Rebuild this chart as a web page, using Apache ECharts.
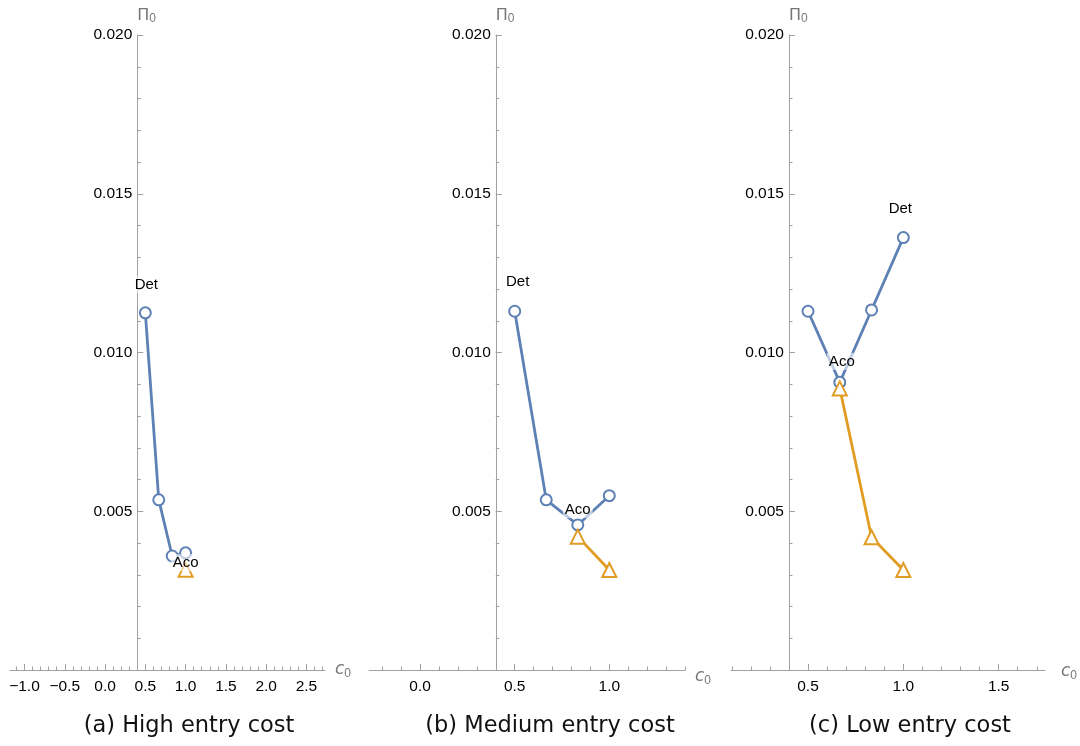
<!DOCTYPE html>
<html>
<head>
<meta charset="utf-8">
<script src="https://cdn.jsdelivr.net/npm/echarts@6/dist/echarts.min.js"></script>
<style>html,body{margin:0;padding:0;background:#fff}#c{width:1080px;height:746px}</style>
</head>
<body>
<div id="c"></div>
<script>
// ---- data ----
const c0Values = [0.5, 0.6667, 0.8333, 1.0];
const detHigh = [0.01125, 0.00536, 0.00359, 0.00369];
const acoHigh = [null, null, null, 0.00316];
const detMedium = [0.01130, 0.00536, 0.00457, 0.00549];
const acoMedium = [null, null, 0.00420, 0.00315];
const detLow = [0.01130, 0.00906, 0.01134, 0.01362];
const acoLow = [null, 0.00887, 0.00418, 0.00315];
const xTicksHigh = [-1.0, -0.5, 0.0, 0.5, 1.0, 1.5, 2.0, 2.5];
const xTicksMedium = [0.0, 0.5, 1.0];
const xTicksLow = [0.5, 1.0, 1.5];
const yTicks = [0.005, 0.010, 0.015, 0.020];
const titles = ['(a) High entry cost', '(b) Medium entry cost', '(c) Low entry cost'];
const detLabel = 'Det', acoLabel = 'Aco';

// ---- layout / style ----
const BLUE = '#5E81B5', ORANGE = '#E19C24', AXIS = '#a0a0a0';
const SANS = 'Liberation Sans, Arial, sans-serif';
const panels = [
  {det: detHigh, aco: acoHigh, ticks: xTicksHigh, xmin: -1.18, xmax: 2.73, left: 10, width: 315, cx: 184,
   detOff: [1, -28], acoOff: [0, -7], nameOff: [0, 0]},
  {det: detMedium, aco: acoMedium, ticks: xTicksMedium, xmin: -0.27, xmax: 1.40, left: 369, width: 316, cx: 545,
   detOff: [3, -29], acoOff: [0, -27], nameOff: [0, 14]},
  {det: detLow, aco: acoLow, ticks: xTicksLow, xmin: 0.096, xmax: 1.743, left: 731, width: 314, cx: 905,
   detOff: [-3, -29], acoOff: [2, -27], nameOff: [6, 4]}
];
const Y0 = 0.4; // x position where the vertical axis crosses
const TOP = 35, HEIGHT = 635;

function minorVals(min, max, step) {
  const out = [];
  const start = Math.ceil(min / step - 1e-9);
  for (let k = start; k * step <= max + 1e-9; k++) out.push(+(k * step).toFixed(4));
  return out;
}
function argmax(arr) {
  let bi = -1, bv = -Infinity;
  arr.forEach((v, i) => { if (v != null && v > bv) { bv = v; bi = i; } });
  return bi;
}
const labelStyle = (off) => ({
  show: true, position: 'inside', offset: off, color: '#000',
  fontFamily: SANS, fontSize: 15,
  backgroundColor: 'rgba(255,255,255,0.6)', padding: [1, 2],
  formatter: (p) => p.data.labelText
});

const grid = [], xAxis = [], yAxis = [], series = [], title = [];
panels.forEach((p, gi) => {
  grid.push({left: p.left, width: p.width, top: TOP, height: HEIGHT, containLabel: false});
  const yOffset = -(Y0 - p.xmin) / (p.xmax - p.xmin) * p.width;
  // main x axis
  xAxis.push({
    type: 'value', gridIndex: gi, min: p.xmin, max: p.xmax, position: 'bottom',
    axisLine: {show: true, onZero: false, lineStyle: {color: AXIS, width: 1}},
    axisTick: {show: true, inside: true, length: 6, customValues: p.ticks, lineStyle: {color: AXIS}},
    axisLabel: {show: true, customValues: p.ticks, formatter: v => v.toFixed(1).replace('-', '\u2212'),
      color: '#000', fontFamily: SANS, fontSize: 15.5, margin: 9},
    splitLine: {show: false},
    name: '{i|c}{s|0}', nameLocation: 'end', nameGap: 10,
    nameTextStyle: {padding: [p.nameOff[1], 0, 0, p.nameOff[0]], rich: {
      i: {fontStyle: 'italic', fontSize: 17, color: '#777', fontFamily: 'DejaVu Sans, sans-serif'},
      s: {fontSize: 12, color: '#777', fontFamily: SANS, verticalAlign: 'bottom', padding: [7, 0, 0, 0]}
    }}
  });
  // minor x ticks
  xAxis.push({
    type: 'value', gridIndex: gi, min: p.xmin, max: p.xmax, position: 'bottom',
    axisLine: {show: false, onZero: false},
    axisTick: {show: true, inside: true, length: 3.5, customValues: minorVals(p.xmin, p.xmax, 0.1), lineStyle: {color: AXIS}},
    axisLabel: {show: false}, splitLine: {show: false}
  });
  // main y axis
  yAxis.push({
    type: 'value', gridIndex: gi, min: 0, max: 0.020, position: 'left', offset: yOffset,
    axisLine: {show: true, onZero: false, lineStyle: {color: AXIS, width: 1}},
    axisTick: {show: true, inside: true, length: 6, customValues: yTicks, lineStyle: {color: AXIS}},
    axisLabel: {show: true, customValues: yTicks, formatter: v => v.toFixed(3),
      color: '#000', fontFamily: SANS, fontSize: 15.5, margin: 5},
    splitLine: {show: false},
    name: '{n|\u03A0}{s|0}', nameLocation: 'end', nameGap: 10,
    nameTextStyle: {align: 'left', padding: [0, 0, 0, 0], rich: {
      n: {fontSize: 16, color: '#777', fontFamily: 'DejaVu Sans, sans-serif'},
      s: {fontSize: 12, color: '#777', fontFamily: SANS, verticalAlign: 'bottom', padding: [7, 0, 0, 0]}
    }}
  });
  // minor y ticks
  yAxis.push({
    type: 'value', gridIndex: gi, min: 0, max: 0.020, position: 'left', offset: yOffset,
    axisLine: {show: false, onZero: false},
    axisTick: {show: true, inside: true, length: 3.5, customValues: minorVals(0, 0.020, 0.001), lineStyle: {color: AXIS}},
    axisLabel: {show: false}, splitLine: {show: false}
  });

  const detMax = argmax(p.det), acoMax = argmax(p.aco);
  const detData = c0Values.map((c, i) => {
    const it = {value: [c, p.det[i]]};
    if (i === detMax) { it.labelText = detLabel; it.label = labelStyle(p.detOff); }
    return it;
  });
  const acoData = c0Values.map((c, i) => {
    if (p.aco[i] == null) return {value: [c, null]};
    const it = {value: [c, p.aco[i]]};
    if (i === acoMax) { it.labelText = acoLabel; it.label = labelStyle(p.acoOff); }
    return it;
  });
  series.push({
    type: 'line', xAxisIndex: gi * 2, yAxisIndex: gi * 2, data: detData,
    symbol: 'emptyCircle', symbolSize: 11, showAllSymbol: true,
    lineStyle: {color: BLUE, width: 2.8}, itemStyle: {color: BLUE, borderColor: BLUE, borderWidth: 2.2},
    label: {show: false}, emphasis: {disabled: true}, animation: false, z: 2
  });
  series.push({
    type: 'line', xAxisIndex: gi * 2, yAxisIndex: gi * 2, data: acoData,
    symbol: 'emptyTriangle', symbolSize: 14, showAllSymbol: true,
    lineStyle: {color: ORANGE, width: 2.8}, itemStyle: {color: ORANGE, borderColor: ORANGE, borderWidth: 2.2},
    label: {show: false}, emphasis: {disabled: true}, animation: false, z: 3
  });
  title.push({
    text: titles[gi], left: p.cx, top: 710, textAlign: 'center',
    textStyle: {fontFamily: 'DejaVu Sans, sans-serif', fontWeight: 'normal', fontSize: 22.5, color: '#111'}
  });
});

const chart = echarts.init(document.getElementById('c'), null, {renderer: 'canvas'});
chart.setOption({animation: false, backgroundColor: '#fff', title, grid, xAxis, yAxis, series});
</script>
</body>
</html>
